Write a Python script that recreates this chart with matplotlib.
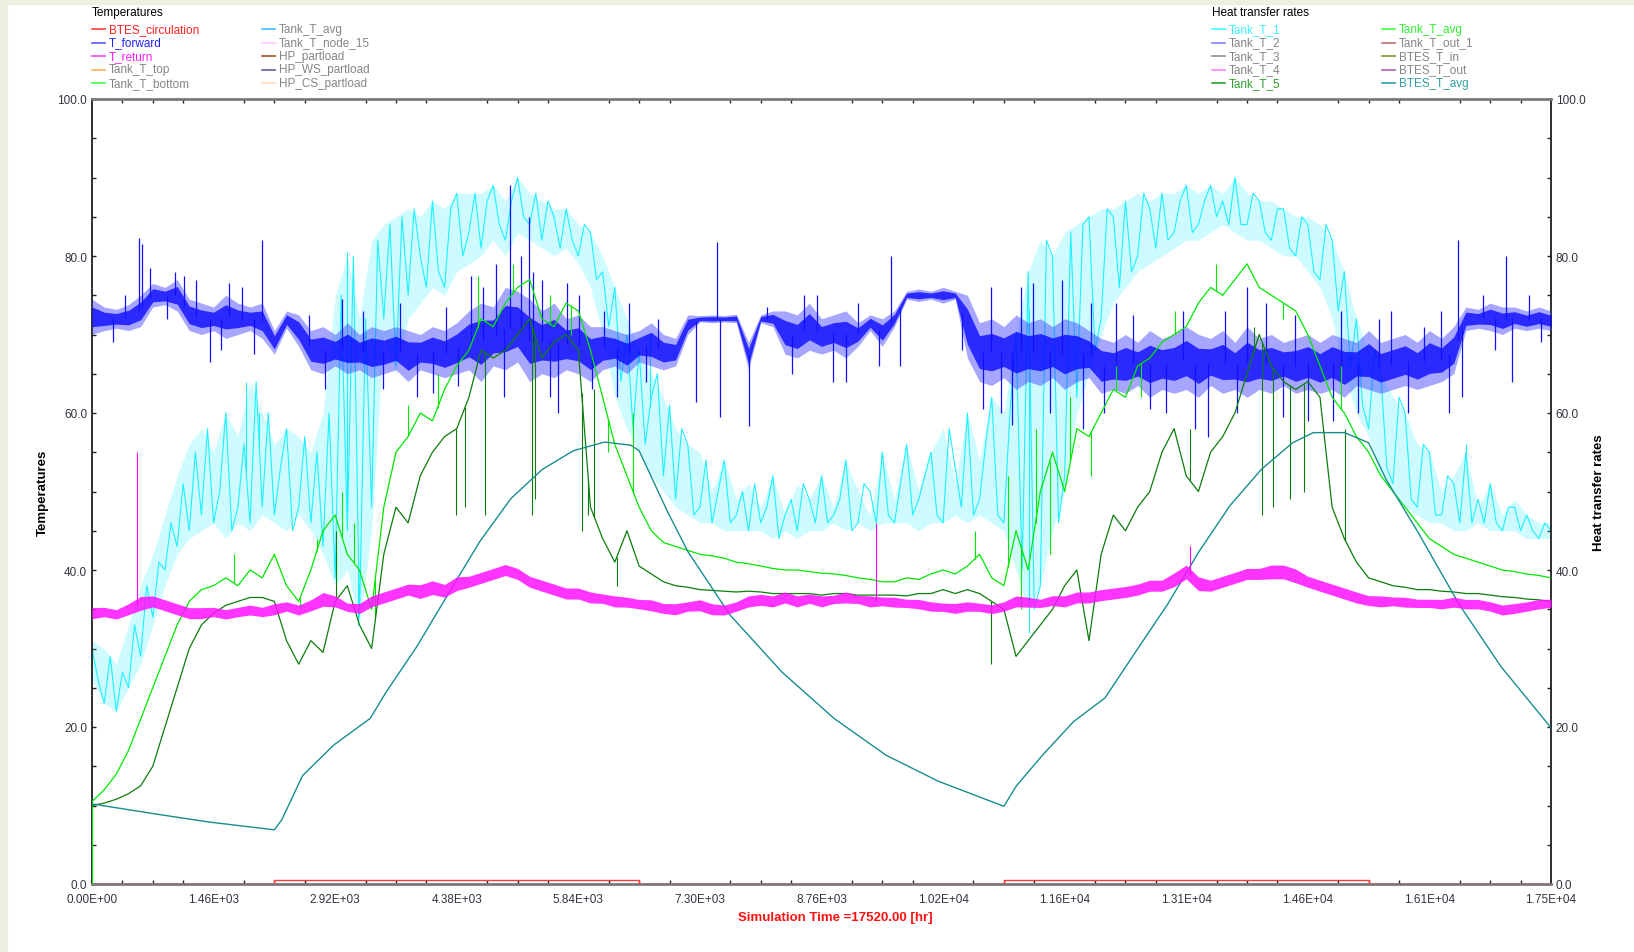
import numpy as np
import matplotlib
matplotlib.use("Agg")
import matplotlib.pyplot as plt
from matplotlib.lines import Line2D
from matplotlib.patches import Rectangle

plt.rcParams['font.family'] = ['Liberation Sans', 'DejaVu Sans']

W, H = 1634, 953

# ---------------------------------------------------------------- data
# sample grids (hours)
hours = np.arange(0, 17521, 146)
hours_fine = np.arange(0, 17521, 73)

# T_forward band (lower / upper envelope)
t_forward_lo = [70.0, 70.5, 70.8, 70.5, 71.0, 73.5, 73.8, 73.0, 70.5, 70.0,
                70.5, 69.5, 70.0, 70.5, 69.5, 67.5, 70.8, 68.5, 65.5, 65.0,
                66.0, 65.0, 65.5, 64.5, 65.0, 65.5, 64.0, 65.5, 65.0, 64.5,
                65.0, 65.5, 64.0, 66.0, 65.5, 66.5, 64.0, 65.0, 64.5, 65.5,
                65.0, 64.0, 65.5, 66.0, 65.0, 66.5, 66.0, 65.5, 66.0, 70.0,
                71.6, 71.5, 71.6, 71.5, 65.5, 71.5, 71.0, 67.5, 67.0, 68.0,
                67.5, 68.0, 67.0, 68.5, 70.5, 68.5, 71.0, 74.5, 74.2, 74.5,
                74.0, 74.5, 67.0, 64.0, 63.5, 64.5, 63.0, 64.0, 63.5, 64.5,
                63.0, 64.0, 64.5, 62.5, 63.0, 62.5, 63.5, 62.0, 63.0, 62.5,
                63.0, 62.0, 63.5, 62.5, 63.0, 62.0, 63.0, 62.5, 63.5, 62.5,
                63.0, 62.5, 63.0, 62.0, 63.5, 63.0, 62.5, 63.0, 63.5, 63.0,
                63.5, 64.0, 65.0, 70.5, 70.8, 70.5, 70.0, 70.8, 70.5, 70.8,
                70.5]
t_forward_hi = [74.5, 73.5, 73.2, 73.8, 75.0, 76.5, 76.0, 77.0, 74.5, 74.0,
                73.5, 75.0, 74.0, 73.5, 74.0, 70.5, 73.0, 72.5, 70.5, 71.0,
                70.0, 71.5, 70.0, 71.0, 70.5, 71.0, 70.5, 70.0, 71.0, 70.5,
                71.5, 73.0, 74.0, 73.5, 76.0, 75.5, 74.5, 73.0, 74.0, 72.0,
                72.5, 71.0, 71.0, 70.5, 70.0, 70.5, 71.5, 70.0, 69.5, 72.5,
                72.4, 72.5, 72.4, 72.6, 69.0, 72.5, 73.0, 73.0, 72.5, 74.0,
                72.0, 72.5, 73.0, 71.5, 72.5, 72.0, 73.0, 75.5, 75.8, 75.5,
                76.0, 75.5, 75.0, 71.5, 72.0, 71.0, 72.5, 71.5, 72.0, 71.0,
                72.0, 71.5, 70.5, 69.5, 69.0, 70.0, 69.0, 70.5, 69.5, 70.0,
                71.0, 70.0, 69.5, 70.5, 69.0, 71.0, 69.5, 70.0, 69.0, 69.5,
                70.0, 69.0, 70.0, 69.5, 69.0, 70.5, 69.0, 69.5, 70.0, 69.0,
                70.5, 69.5, 71.0, 73.5, 73.2, 74.0, 73.5, 73.5, 73.0, 73.5,
                73.0]
t_forward_spikes = [(250, 69.0), (400, 75.0), (560, 82.3), (600, 81.5),
                    (700, 78.5), (900, 72.0), (1000, 78.0), (1100, 77.5),
                    (1250, 77.0), (1420, 66.5), (1550, 68.0), (1650, 76.5),
                    (1800, 76.0), (1950, 67.5), (2040, 82.0), (2600, 72.5),
                    (2800, 63.0), (3000, 74.5), (3250, 73.0), (3500, 63.0),
                    (3700, 74.0), (3900, 62.0), (4100, 62.5), (4250, 73.5),
                    (4400, 63.5), (4550, 77.5), (4700, 76.0), (4850, 79.0),
                    (4950, 62.0), (5020, 89.0), (5150, 80.0), (5250, 85.0),
                    (5300, 78.0), (5400, 77.0), (5500, 62.0), (5600, 60.0),
                    (5700, 76.5), (5850, 75.0), (6000, 63.0), (6150, 73.0),
                    (6300, 62.0), (6450, 74.0), (6650, 64.0), (6800, 72.0),
                    (7250, 61.4), (7500, 81.8), (7540, 59.5), (7890, 58.4),
                    (8100, 73.5), (8400, 65.0), (8550, 75.0), (8700, 75.0),
                    (8900, 64.0), (9050, 64.0), (9200, 74.0), (9450, 66.0),
                    (9600, 80.0), (9700, 66.0), (10450, 68.0), (10700, 60.5),
                    (10800, 76.0), (10910, 60.0), (11050, 58.5), (11150, 76.0),
                    (11300, 76.5), (11500, 60.0), (11650, 77.0), (11900, 58.0),
                    (12000, 74.0), (12150, 60.0), (12300, 74.0), (12500, 72.5),
                    (12700, 60.5), (12900, 60.0), (13100, 73.0), (13250, 58.0),
                    (13400, 57.0), (13600, 73.0), (13750, 60.0), (13870, 76.0),
                    (14100, 74.0), (14300, 59.5), (14450, 72.5), (14600, 59.0),
                    (14900, 59.0), (15000, 73.0), (15200, 60.0), (15450, 72.0),
                    (15600, 73.0), (15800, 60.0), (16000, 71.0), (16200, 73.0),
                    (16300, 60.0), (16400, 82.0), (16450, 62.0), (16700, 75.0),
                    (16850, 68.0), (16980, 80.0), (17050, 64.0), (17250, 75.0),
                    (17400, 69.0)]

# Tank_T_1 band (envelope) and trace
tank_t1_lo = [26, 23, 22, 25, 28, 33, 38, 42, 44, 45,
              46, 44, 46, 45, 47, 46, 45, 47, 45, 42,
              38, 40, 33, 45, 70, 65, 72, 74, 76, 75,
              78, 79, 80, 82, 80, 83, 82, 81, 80, 81,
              79, 76, 70, 62, 58, 55, 52, 50, 48, 47,
              46, 46, 45, 45, 45, 45, 44, 45, 44, 45,
              45, 46, 45, 46, 45, 46, 46, 46, 45, 46,
              46, 47, 46, 47, 46, 45, 40, 35, 38, 45,
              50, 60, 65, 70, 74, 76, 78, 79, 80, 81,
              82, 82, 83, 84, 83, 82, 82, 81, 80, 80,
              78, 76, 72, 65, 60, 57, 52, 50, 48, 47,
              46, 46, 45, 45, 46, 45, 45, 45, 44, 44,
              44]
tank_t1_hi = [31, 30, 28, 33, 38, 42, 47, 52, 56, 58,
              55, 60, 57, 64, 60, 56, 58, 57, 55, 60,
              75, 80, 72, 82, 84, 85, 86, 85, 87, 86,
              88, 88, 88, 89, 87, 90, 88, 87, 86, 86,
              84, 83, 80, 76, 72, 68, 65, 62, 58, 56,
              55, 50, 54, 49, 51, 48, 52, 47, 51, 49,
              52, 48, 54, 50, 47, 55, 49, 56, 50, 55,
              58, 51, 60, 54, 62, 60, 70, 78, 82, 80,
              83, 84, 85, 86, 86, 87, 88, 87, 88, 88,
              89, 88, 89, 88, 90, 88, 87, 87, 86, 85,
              85, 84, 82, 78, 72, 68, 65, 62, 60, 56,
              55, 50, 52, 55, 48, 51, 47, 49, 47, 46,
              46]
tank_t1 = [30, 26, 23, 29, 22, 27, 25, 33, 29, 38, 34, 41, 40, 46, 43, 51,
           45, 55, 47, 58, 46, 50, 60, 45, 48, 56, 46, 64, 48, 60, 47, 53,
           58, 45, 48, 57, 46, 55, 43, 60, 39, 75, 45, 80, 34, 72, 48, 82,
           72, 84, 66, 85, 75, 86, 80, 76, 87, 78, 76, 86, 88, 80, 83, 88,
           81, 87, 89, 84, 82, 87, 90, 85, 84, 88, 82, 87, 85, 81, 86, 82,
           80, 84, 83, 77, 78, 71, 76, 64, 70, 58, 68, 56, 62, 65, 52, 61,
           49, 58, 56, 47, 48, 54, 46, 50, 54, 46, 47, 50, 45, 51, 46, 48,
           52, 44, 47, 49, 45, 51, 49, 46, 52, 46, 47, 49, 54, 45, 46, 51,
           50, 46, 55, 47, 46, 51, 56, 47, 49, 52, 55, 47, 46, 58, 53, 48,
           60, 47, 49, 56, 62, 47, 46, 60, 70, 40, 78, 35, 38, 82, 80, 46,
           52, 83, 62, 84, 85, 68, 72, 86, 85, 76, 87, 78, 80, 88, 86, 81,
           88, 82, 83, 87, 89, 83, 84, 87, 89, 85, 87, 84, 90, 84, 84, 88,
           87, 83, 82, 86, 86, 81, 80, 85, 84, 78, 77, 84, 82, 73, 78, 66,
           72, 61, 58, 68, 65, 53, 51, 62, 60, 49, 48, 56, 55, 47, 47, 52,
           51, 46, 55, 46, 49, 46, 51, 46, 45, 48, 48, 45, 47, 45, 44, 46,
           45]
tank_t1_spikes = [(1850, 64), (2010, 60), (3060, 80.5), (3200, 33),
                  (6700, 70), (11250, 32), (16500, 56)]

# T_return band
t_return_lo = [33.5, 33.8, 33.5, 34, 34.5, 35, 34.5, 34, 33.5, 33.5,
               33.8, 33.5, 33.8, 34, 33.8, 34, 34.5, 34, 34.5, 35,
               35, 34.5, 34.2, 35, 35.5, 36, 36.5, 36, 36.5, 36.2,
               37, 37.5, 38, 38.5, 39, 38.5, 37.5, 37, 36.5, 36,
               36, 35.5, 35.5, 35, 35, 34.8, 34.5, 34.2, 34, 34.5,
               34.5, 34, 34, 34.5, 35, 35.2, 35, 35.5, 35, 35.5,
               35, 35.5, 35.5, 35.5, 35, 35.2, 35, 35, 34.8, 34.5,
               34.5, 34.2, 34.5, 34.5, 34.2, 34.5, 35, 35, 35, 35.2,
               35, 35.5, 35.5, 35.8, 36, 36.2, 36.5, 37, 37, 37.5,
               38.5, 37, 37, 37.5, 38, 38.5, 38.5, 38.5, 38.5, 38,
               37.5, 37, 36.5, 36, 35.5, 35.2, 35, 35.2, 35, 35,
               35, 34.8, 35, 34.8, 34.8, 34.5, 34, 34.2, 34.5, 34.8,
               35]
t_return_hi = [35.5, 35.5, 35.2, 36, 37, 37, 36.5, 36, 35.5, 35.5,
               35.5, 35.2, 35.5, 35.8, 35.5, 36, 36.2, 35.8, 36.5, 37.5,
               37, 36, 36, 37, 37.5, 38, 38.5, 38.5, 39, 38.5,
               39.5, 39.5, 40, 40.5, 41, 40.5, 39.5, 39, 38.5, 38,
               38, 37.5, 37.2, 37, 36.8, 36.5, 36.5, 36, 36, 36.2,
               36.5, 36, 35.8, 36.2, 37, 37.2, 37, 37.5, 37, 37.2,
               37, 37, 37.5, 37, 37, 36.8, 36.8, 36.5, 36.5, 36.2,
               36, 36, 36.2, 36, 35.8, 36.2, 37, 36.8, 36.5, 37,
               37, 37.5, 37.5, 37.8, 38, 38.2, 38.5, 39, 39, 40,
               41, 39.5, 39, 39.5, 40, 40.5, 40.5, 41, 41, 40.5,
               39.5, 39, 38.5, 38, 37.5, 37, 37, 36.8, 36.8, 36.5,
               36.5, 36.5, 36.8, 36.5, 36.5, 36.2, 35.8, 36, 36.2, 36.5,
               36.5]
t_return_spikes = [(538, 55.0), (9410, 46.0), (13180, 43.0)]

# Tank_T_avg
tank_t_avg = [10.5, 12, 14, 17, 21, 25, 29, 33, 36, 37.5,
              38, 39, 38, 40, 39, 42, 38, 36, 40, 45,
              47, 42, 40, 35, 48, 55, 57, 60, 59, 63,
              66, 68, 72, 71, 74, 76, 77, 72, 71, 74,
              73, 68, 62, 56, 52, 48, 45, 43.5, 43, 42.5,
              42, 41.8, 41.5, 41, 40.8, 40.5, 40.2, 40, 40, 39.8,
              39.6, 39.5, 39.3, 39, 38.8, 38.5, 38.5, 39, 38.8, 39.5,
              40, 39.5, 40.5, 42, 39, 38, 45, 40, 50, 55,
              50, 58, 57, 60, 63, 62, 66, 67, 69, 70,
              71, 74, 76, 75, 77, 79, 76, 75, 74, 73,
              70, 66, 62, 60, 57, 55, 52, 50, 48, 46,
              44, 43, 42, 41.5, 41, 40.5, 40, 39.8, 39.5, 39.3,
              39]
tank_t_avg_spikes = [(0, 0.0), (1700, 42), (2500, 35), (2700, 44),
                     (3000, 50), (3150, 46), (3400, 34), (3800, 61),
                     (4150, 65), (4630, 77.5), (5050, 79), (5500, 75),
                     (5750, 70), (6200, 55), (6500, 60), (10600, 45),
                     (11000, 52), (11150, 35), (11330, 58), (11500, 42),
                     (11750, 62), (12000, 52), (12300, 66), (12600, 62),
                     (13000, 73), (13500, 79), (14300, 72), (15000, 66)]

# Tank_T_5
tank_t5 = [10, 10.3, 10.8, 11.5, 12.5, 15, 20, 25, 30, 33,
           34.5, 35.5, 36, 36.5, 36.5, 36, 31, 28, 31, 29.5,
           36, 38, 33, 30, 42, 48, 46, 52, 55, 57,
           58, 62, 68, 67, 68, 70, 72, 67, 69, 70,
           68, 48, 44, 41, 45, 40.5, 39.5, 38.5, 38, 37.8,
           37.5, 37.4, 37.3, 37.2, 37.3, 37.2, 37, 37, 37, 37,
           36.8, 37, 37, 36.8, 36.8, 36.8, 36.8, 36.7, 37, 37,
           37.5, 37, 37.5, 37, 36, 35, 29, 31, 33, 35,
           38, 40, 31, 42, 47, 45, 48, 50, 55, 58,
           52, 50, 55, 57, 60, 65, 70, 66, 64, 63,
           64, 62, 48, 44, 41, 39, 38.5, 38, 37.8, 37.5,
           37.5, 37.3, 37.2, 37, 37, 36.8, 36.6, 36.5, 36.3, 36.2,
           36]
tank_t5_spikes = [(2930, 45), (4370, 47), (4480, 48), (4720, 47),
                  (5280, 47), (5320, 49), (5880, 45), (5960, 47),
                  (6030, 63), (6300, 38), (10800, 28), (13180, 58),
                  (13950, 71), (14050, 47), (14180, 48), (14380, 49),
                  (14550, 50), (15050, 58)]

# BTES_T_avg (smooth storage temperature)
btes_hours = [0, 776, 1401, 2190, 2280, 2528, 2903, 3341, 3529, 3904,
              4280, 4655, 5030, 5406, 5781, 6157, 6470, 6570, 6908, 7158,
              7659, 8285, 8910, 9536, 10161, 10950, 11100, 11413, 11788, 12164,
              12540, 12914, 13290, 13665, 14040, 14416, 14666, 15042, 15330, 15542,
              15918, 16418, 16919, 17520]
btes_t_avg = [10.2, 8.9, 7.9, 6.9, 8.2, 13.8, 17.7, 21.1, 24.4, 30.3,
              37.0, 43.6, 49.1, 52.8, 55.2, 56.3, 55.9, 55.2, 47.5, 42.3,
              34.3, 27.0, 21.1, 16.4, 13.1, 9.9, 12.5, 16.4, 20.7, 23.7,
              29.7, 35.6, 42.3, 48.2, 52.8, 56.2, 57.5, 57.5, 56.2, 51.5,
              44.9, 35.6, 27.7, 19.9]

# BTES_circulation pump signal
circ_hours = [0, 2190, 2190, 6570, 6570, 10950, 10950, 15330, 15330, 17520]
circ_state = [0, 0, 0.55, 0.55, 0, 0, 0.55, 0.55, 0, 0]

x_tick_values = [0, 1460, 2920, 4380, 5840, 7300, 8760, 10220, 11680,
                 13140, 14600, 16060, 17520]
x_tick_labels = ['0.00E+00', '1.46E+03', '2.92E+03', '4.38E+03', '5.84E+03',
                 '7.30E+03', '8.76E+03', '1.02E+04', '1.16E+04', '1.31E+04',
                 '1.46E+04', '1.61E+04', '1.75E+04']
y_tick_values = [0, 20, 40, 60, 80, 100]
y_tick_labels = ['0.0', '20.0', '40.0', '60.0', '80.0', '100.0']

GRAY = '#858585'
temp_legend = [
    ('BTES_circulation', '#ff4040', '#ff2020'),
    ('T_forward', '#5858ff', '#2222ff'),
    ('T_return', '#ff40ff', '#ff22ff'),
    ('Tank_T_top', '#ffb060', GRAY),
    ('Tank_T_bottom', '#40ff40', GRAY),
    ('Tank_T_avg', '#40c0ff', GRAY),
    ('Tank_T_node_15', '#ffc8ff', GRAY),
    ('HP_partload', '#a0522d', GRAY),
    ('HP_WS_partload', '#6060a0', GRAY),
    ('HP_CS_partload', '#ffd8c0', GRAY),
]
heat_legend = [
    ('Tank_T_1', '#40ffff', '#40f0ff'),
    ('Tank_T_2', '#8080ff', GRAY),
    ('Tank_T_3', '#909090', GRAY),
    ('Tank_T_4', '#ff80ff', GRAY),
    ('Tank_T_5', '#30a030', '#30a030'),
    ('Tank_T_avg', '#40ff40', '#30f030'),
    ('Tank_T_out_1', '#c07070', GRAY),
    ('BTES_T_in', '#909030', GRAY),
    ('BTES_T_out', '#b060b0', GRAY),
    ('BTES_T_avg', '#30a0a0', '#30a0a0'),
]

# ---------------------------------------------------------------- helpers
def fx(px):
    return px / W


def fy(py):
    return 1 - py / H


def draw_spikes(ax, events, base_x, base_y, color, lw=0.8, z=2):
    t = np.array([e[0] for e in events], dtype=float)
    v = np.array([e[1] for e in events], dtype=float)
    b = np.interp(t, base_x, base_y)
    ax.vlines(t, b, v, colors=color, lw=lw, zorder=z)


def band_core(lo, hi, frac):
    lo = np.asarray(lo, dtype=float)
    hi = np.asarray(hi, dtype=float)
    d = (hi - lo) * frac
    return lo + d, hi - d


# ---------------------------------------------------------------- figure
fig = plt.figure(figsize=(W / 100, H / 100), dpi=100)
fig.patch.set_facecolor('white')
frame = '#edf0e1'
fig.patches.append(Rectangle((0, 0), fx(7), 1, transform=fig.transFigure,
                             color=frame, zorder=0))
fig.patches.append(Rectangle((0, fy(5)), 1, 5 / H, transform=fig.transFigure,
                             color=frame, zorder=0))

ax = fig.add_axes([fx(92), fy(885), fx(1551 - 92), (885 - 100) / H])
ax.set_xlim(0, 17520)
ax.set_ylim(0, 100)

CYAN = '#1ef0ff'
# Tank_T_1
ax.fill_between(hours, tank_t1_lo, tank_t1_hi, color=CYAN, alpha=0.22,
                lw=0, zorder=2)
ax.plot(hours_fine, tank_t1, color=CYAN, lw=0.8, zorder=2)
draw_spikes(ax, tank_t1_spikes, hours_fine, tank_t1, CYAN, z=2)

# T_forward
ax.fill_between(hours, t_forward_lo, t_forward_hi, color='#3a3aff',
                alpha=0.45, lw=0, zorder=3)
c_lo, c_hi = band_core(t_forward_lo, t_forward_hi, 0.22)
ax.fill_between(hours, c_lo, c_hi, color='#0000ff', alpha=0.75, lw=0, zorder=3)
draw_spikes(ax, t_forward_spikes, hours,
            (np.array(t_forward_lo) + np.array(t_forward_hi)) / 2, '#1010ff',
            lw=0.9, z=3)

# Tank_T_avg and Tank_T_5
ax.plot(hours, tank_t_avg, color='#00e800', lw=0.9, zorder=4)
draw_spikes(ax, tank_t_avg_spikes, hours, tank_t_avg, '#00e800', z=4)
ax.plot(hours, tank_t5, color='#0b7d0b', lw=0.9, zorder=4)
draw_spikes(ax, tank_t5_spikes, hours, tank_t5, '#0b7d0b', z=4)

# BTES_T_avg
ax.plot(btes_hours, btes_t_avg, color='#178d8d', lw=1.0, zorder=5)

# T_return
m_lo, m_hi = band_core(t_return_lo, t_return_hi, 0.15)
ax.fill_between(hours, m_lo, m_hi, color='#ff10ff', alpha=0.85, lw=0, zorder=5)
draw_spikes(ax, t_return_spikes, hours,
            (np.array(t_return_lo) + np.array(t_return_hi)) / 2, '#ff00ff', z=5)

# BTES_circulation
ax.plot(circ_hours, circ_state, color='#ff3c3c', lw=1.0, zorder=6)

# ---------------------------------------------------------------- axes styling
for side in ('top', 'bottom'):
    ax.spines[side].set_color('#7a7a7a')
    ax.spines[side].set_linewidth(2.0)
for side in ('left', 'right'):
    ax.spines[side].set_color('#1e1e1e')
    ax.spines[side].set_linewidth(1.3)

ax.set_xticks(x_tick_values)
ax.set_xticklabels(x_tick_labels)
ax.set_xticks(np.arange(0, 17521, 365), minor=True)
ax.set_yticks(y_tick_values)
ax.set_yticklabels(y_tick_labels)
ax.set_yticks(np.arange(0, 101, 5), minor=True)

ax.tick_params(which='both', direction='in', length=3, width=1,
               color='#222222', top=True, right=True, labelright=True,
               labelsize=8.5, labelcolor='#333340')
ax.tick_params(axis='x', which='major', color='white', width=1.5, pad=6.5)
ax.tick_params(axis='y', which='both', pad=3.5)

fig.text(fx(43), fy(492.5), 'Temperatures', rotation=90, ha='center',
         va='center', fontsize=9.5, fontweight='bold', color='black')
fig.text(fx(1599), fy(492.5), 'Heat transfer rates', rotation=90,
         ha='center', va='center', fontsize=9.5, fontweight='bold',
         color='black')
fig.text(fx(835.5), fy(918), 'Simulation Time =17520.00 [hr]', ha='center',
         va='center', fontsize=9.5, fontweight='bold', color='#ff1010')

# ---------------------------------------------------------------- legends
rows = [30, 43.5, 57, 70.5, 84]


def legend_block(title, entries, x_title, col_x):
    fig.text(fx(x_title), fy(12.7), title, fontsize=8.5, va='center',
             ha='left', color='black')
    for i, (label, lc, tc) in enumerate(entries):
        x0 = col_x[i // 5]
        y0 = rows[i % 5]
        fig.add_artist(Line2D([fx(x0), fx(x0 + 13)], [fy(y0), fy(y0)],
                              color=lc, lw=1.2, transform=fig.transFigure))
        fig.text(fx(x0 + 17), fy(y0), label, fontsize=8.5, va='center',
                 ha='left', color=tc)


legend_block('Temperatures', temp_legend, 92, [92, 262])
legend_block('Heat transfer rates', heat_legend, 1212, [1212, 1382])

fig.savefig('out.png', dpi=100)
